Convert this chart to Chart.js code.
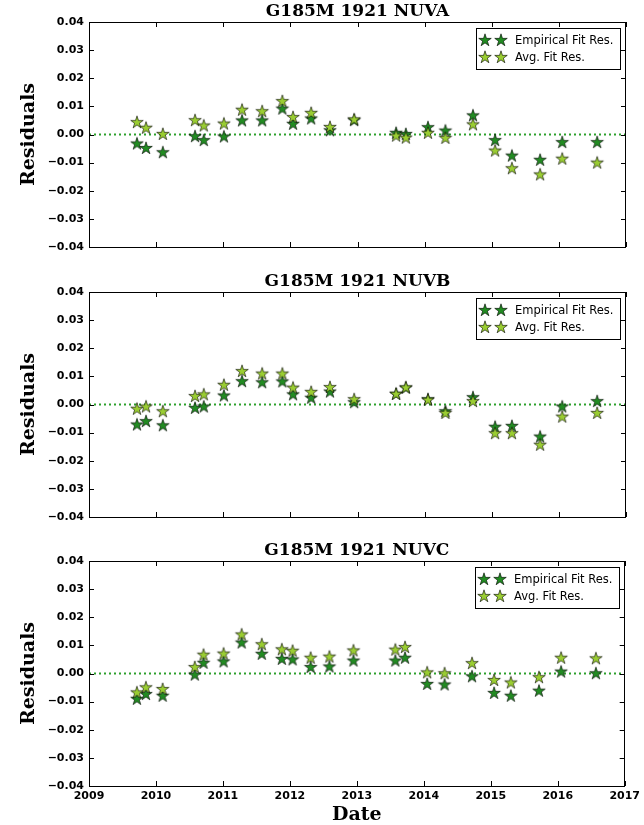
<!DOCTYPE html>
<html>
<head>
<meta charset="utf-8">
<script src="https://cdn.jsdelivr.net/npm/chart.js@4.4.1/dist/chart.umd.min.js"></script>
<style>
  body { margin: 0; background: #fff; width: 644px; height: 825px; position: relative; overflow: hidden; }
  canvas { position: absolute; left: 0; }
</style>
</head>
<body>
<canvas id="chartA" width="644" height="270" style="top:0px"></canvas>
<canvas id="chartB" width="644" height="270" style="top:270px"></canvas>
<canvas id="chartC" width="644" height="286" style="top:539px"></canvas>
<script>
// observation dates (decimal years), shared by all three panels
var dates = [2009.715, 2009.85, 2010.10, 2010.58, 2010.71, 2011.01, 2011.28, 2011.58, 2011.88, 2012.04, 2012.31, 2012.59,
  2012.95, 2013.575, 2013.72, 2014.05, 2014.31, 2014.72, 2015.05, 2015.30, 2015.72, 2016.05, 2016.57];

// NUVA
var empA = [-0.0032, -0.0048, -0.0063, -0.0006, -0.002, -0.0007, 0.005, 0.005, 0.0092, 0.0038, 0.0057, 0.0015,
  0.0051, 0.0006, 0.0002, 0.0026, 0.0014, 0.0068, -0.002, -0.0075, -0.009, -0.0027, -0.0027];
var avgA = [0.0044, 0.0024, 0.0002, 0.0051, 0.0032, 0.0039, 0.0088, 0.0083, 0.0119, 0.0062, 0.0077, 0.0027,
  0.0054, -0.0004, -0.0011, 0.0006, -0.0012, 0.0036, -0.0057, -0.012, -0.0142, -0.0086, -0.01];

// NUVB
var empB = [-0.0071, -0.0059, -0.0074, -0.0012, -0.0007, 0.0032, 0.0083, 0.0079, 0.0082, 0.0036, 0.0024, 0.0046,
  0.0008, 0.0038, 0.006, 0.0019, -0.0024, 0.0026, -0.0079, -0.0076, -0.0114, -0.0007, 0.0012];
var avgB = [-0.0015, -0.0007, -0.0024, 0.003, 0.0036, 0.007, 0.0119, 0.011, 0.011, 0.006, 0.0045, 0.0062,
  0.0019, 0.0038, 0.0061, 0.0017, -0.003, 0.0012, -0.0102, -0.0102, -0.0143, -0.0043, -0.003];

// NUVC
var empC = [-0.009, -0.0073, -0.0079, -0.0004, 0.0038, 0.0043, 0.011, 0.007, 0.0052, 0.005, 0.0023, 0.0025,
  0.0046, 0.0046, 0.0056, -0.0037, -0.0039, -0.001, -0.0069, -0.0079, -0.0061, 0.0007, 0.0001];
var avgC = [-0.0067, -0.0049, -0.0055, 0.0023, 0.0067, 0.0071, 0.0139, 0.0104, 0.0086, 0.0081, 0.0056, 0.006,
  0.0082, 0.0085, 0.0094, 0.0004, 0.0001, 0.0037, -0.0023, -0.0032, -0.0013, 0.0056, 0.0054];

var xLimits = [2009, 2017];
var yLimits = [-0.04, 0.04];
var seriesNames = ["Empirical Fit Res.", "Avg. Fit Res."];

var empColor = "#228b22";
var avgColor = "#9acd32";

// filled 5 point star, like matplotlib's "*" marker
function starImage(fill) {
  var c = document.createElement("canvas");
  c.width = 16;
  c.height = 16;
  var ctx = c.getContext("2d");
  var R = 6.6, r = R * 0.382;
  ctx.beginPath();
  for (var k = 0; k < 10; k++) {
    var rad = k % 2 == 0 ? R : r;
    var ang = -Math.PI / 2 + k * Math.PI / 5;
    var px = 8 + rad * Math.cos(ang), py = 8.4 + rad * Math.sin(ang);
    if (k == 0) ctx.moveTo(px, py); else ctx.lineTo(px, py);
  }
  ctx.closePath();
  ctx.fillStyle = fill;
  ctx.fill();
  ctx.lineWidth = 0.8;
  ctx.strokeStyle = "rgba(0,0,0,0.75)";
  ctx.stroke();
  return c;
}
var empStar = starImage(empColor);
var avgStar = starImage(avgColor);

function toPoints(ys) {
  return ys.map(function(y, i) { return {x: dates[i], y: y}; });
}

// inward ticks on all four sides + box + legend
var framePlugin = {
  id: "frame",
  afterDraw: function(chart) {
    var ctx = chart.ctx, a = chart.chartArea;
    var xs = chart.scales.x, ys = chart.scales.y;
    ctx.save();
    ctx.strokeStyle = "#000";
    ctx.lineWidth = 1;
    ctx.strokeRect(Math.round(a.left) + 0.5, Math.round(a.top) + 0.5, Math.round(a.right - a.left) - 1, Math.round(a.bottom - a.top));
    ctx.beginPath();
    xs.ticks.forEach(function(t) {
      var px = Math.round(xs.getPixelForValue(t.value)) + 0.5;
      ctx.moveTo(px, a.bottom); ctx.lineTo(px, a.bottom - 5);
      ctx.moveTo(px, a.top); ctx.lineTo(px, a.top + 5);
    });
    ys.ticks.forEach(function(t) {
      var py = Math.round(ys.getPixelForValue(t.value)) + 0.5;
      ctx.moveTo(a.left, py); ctx.lineTo(a.left + 5, py);
      ctx.moveTo(a.right, py); ctx.lineTo(a.right - 5, py);
    });
    ctx.stroke();

    // legend
    ctx.font = '11.5px "DejaVu Sans"';
    var tw = Math.max(ctx.measureText(seriesNames[0]).width, ctx.measureText(seriesNames[1]).width);
    var bw = Math.round(39 + tw + 7), bh = 41;
    var bx = Math.round(a.right) - 6 - bw, by = Math.round(a.top) + 6;
    ctx.fillStyle = "#fff";
    ctx.fillRect(bx, by, bw, bh);
    ctx.strokeRect(bx + 0.5, by + 0.5, bw, bh);
    var imgs = [empStar, avgStar];
    for (var i = 0; i < 2; i++) {
      var ry = by + 12 + i * 17;
      ctx.drawImage(imgs[i], bx + 9 - 8, ry - 8);
      ctx.drawImage(imgs[i], bx + 25 - 8, ry - 8);
      ctx.fillStyle = "#000";
      ctx.textBaseline = "middle";
      ctx.textAlign = "left";
      ctx.fillText(seriesNames[i], bx + 39, ry + 1);
    }
    ctx.restore();
  }
};

function makeChart(id, title, emp, avg, bottom) {
  return new Chart(document.getElementById(id), {
    type: "scatter",
    data: {
      datasets: [
        {
          label: seriesNames[0],
          data: toPoints(emp),
          pointStyle: empStar,
          pointRadius: 5,
          pointHoverRadius: 5,
          order: 1
        },
        {
          label: seriesNames[1],
          data: toPoints(avg),
          pointStyle: avgStar,
          pointRadius: 5,
          pointHoverRadius: 5,
          order: 0
        },
        {
          label: "zero",
          data: xLimits.map(function(x) { return {x: x, y: 0}; }),
          showLine: true,
          borderColor: "#2ca02c",
          borderWidth: 2,
          borderDash: [2, 3],
          pointRadius: 0,
          order: 5
        }
      ]
    },
    options: {
      responsive: false,
      animation: false,
      devicePixelRatio: 1,
      layout: { padding: { left: 0, right: 18, top: 0, bottom: 0 } },
      plugins: {
        legend: { display: false },
        tooltip: { enabled: false },
        title: {
          display: true,
          text: title,
          fullSize: false,
          color: "#000",
          font: { family: "DejaVu Serif", size: 17, weight: "bold", lineHeight: 1.2 },
          padding: { top: 1.6, bottom: 0 }
        }
      },
      scales: {
        x: {
          type: "linear",
          min: xLimits[0],
          max: xLimits[1],
          grid: { display: false, drawTicks: false },
          border: { display: false },
          ticks: {
            display: bottom,
            stepSize: 1,
            padding: 4,
            color: "#000",
            font: { family: "DejaVu Sans", size: 11, weight: "bold" },
            callback: function(v) { return String(v); }
          },
          title: {
            display: bottom,
            text: "Date",
            color: "#000",
            font: { family: "DejaVu Serif", size: 19, weight: "bold", lineHeight: 1 },
            padding: 0
          },
          afterFit: function(s) { s.height = bottom ? 39 : 23; }
        },
        y: {
          min: yLimits[0],
          max: yLimits[1],
          grid: { display: false, drawTicks: false },
          border: { display: false },
          ticks: {
            stepSize: 0.01,
            padding: 5,
            color: "#000",
            font: { family: "DejaVu Sans", size: 11, weight: "bold" },
            callback: function(v) {
              if (Math.abs(v) < 1e-9) v = 0;
              return v.toFixed(2).replace("-", "\u2212");
            }
          },
          title: {
            display: true,
            text: "Residuals",
            color: "#000",
            font: { family: "DejaVu Serif", size: 19, weight: "bold" },
            padding: { top: 18, bottom: 0 }
          },
          afterFit: function(s) { s.width = 89; }
        }
      }
    },
    plugins: [framePlugin]
  });
}

makeChart("chartA", "G185M 1921 NUVA", empA, avgA, false);
makeChart("chartB", "G185M 1921 NUVB", empB, avgB, false);
makeChart("chartC", "G185M 1921 NUVC", empC, avgC, true);
</script>
</body>
</html>
